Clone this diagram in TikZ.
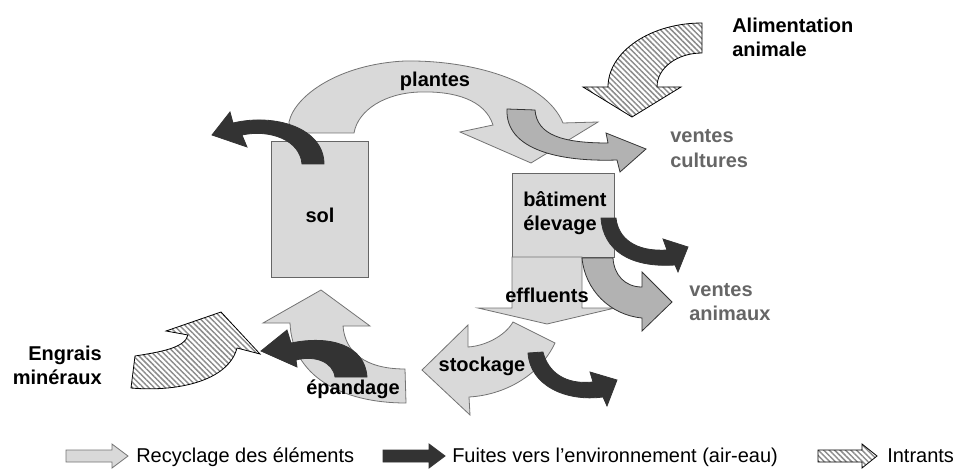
\documentclass[tikz,border=0pt]{standalone}
\usepackage{fontspec}
\setmainfont{Liberation Sans}
\usetikzlibrary{patterns.meta}

\definecolor{lightfill}{gray}{0.85}
\definecolor{lightline}{gray}{0.45}
\definecolor{midfill}{gray}{0.70}
\definecolor{darkfill}{gray}{0.20}
\definecolor{hatchline}{gray}{0.55}
\definecolor{salestext}{gray}{0.40}

\begin{document}
\begin{tikzpicture}[x=0.75pt, y=-0.75pt,
	recycle/.style={fill=lightfill, draw=lightline, line width=0.6pt},
	leak/.style={fill=darkfill, draw=darkfill, line width=0.6pt},
	sale/.style={fill=midfill, draw=black!80, line width=0.6pt},
	intrant/.style={draw=black, line width=0.6pt, preaction={fill=white}, pattern={Lines[angle=-45, distance=2.9pt, line width=1.1pt]}, pattern color=hatchline},
	stockbox/.style={fill=lightfill, draw=black!60, line width=0.6pt},
	boldtext/.style={font=\bfseries\fontsize{15}{18}\selectfont, inner sep=0pt},
	keytext/.style={font=\fontsize{15}{18}\selectfont, inner sep=0pt, anchor=base west}]
	
	\useasboundingbox (0,0) rectangle (956,474);
	
	\draw[recycle] (290,133) -- (289,122) .. controls (295,95) and (340,64) .. (405,61) .. controls (470,60) and (545,80) .. (563,123) -- (598,122) -- (531,163) -- (460,132) -- (493,125) .. controls (485,100) and (455,91) .. (420,92) .. controls (385,93) and (358,110) .. (354,133) -- cycle;
	\draw[stockbox] (271,141) rectangle (368,277);
	\draw[leak] (302,164) -- (324,164) .. controls (324,128) and (275,113) .. (233,123) -- (230,112) -- (212,135) -- (247,147) -- (242,135) .. controls (270,129) and (300,140) .. (302,164) -- cycle;
	\draw[sale] (507,109) -- (535,110) .. controls (537,135) and (562,143) .. (608,143) -- (606,133) -- (646,149) -- (620,172) -- (617,160) .. controls (560,162) and (505,150) .. (507,109) -- cycle;
	\draw[intrant] (702,23) -- (702,53) .. controls (677,53) and (657,68) .. (657,87) -- (681,87) -- (632,117) -- (583,87) -- (608,87) .. controls (608,52) and (650,23) .. (702,23) -- cycle;
	
	\draw[stockbox] (512,173) rectangle (614,257);
	\draw[recycle] (512,257) -- (582,257) -- (582,308) -- (615,308) -- (547,324) -- (478,308) -- (512,308) -- cycle;
	\draw[sale] (582,258) -- (613,258) .. controls (614,275) and (625,287) .. (642,287) -- (642,272) -- (672,302) -- (642,331) -- (642,318) .. controls (610,315) and (585,290) .. (582,258) -- cycle;
	\draw[leak] (601,218) -- (616,218) .. controls (618,238) and (635,252) .. (667,250) -- (663,239) -- (688,247) -- (678,272) -- (675,265) .. controls (630,268) and (603,250) .. (601,218) -- cycle;
	
	\draw[recycle] (513,322) -- (555,343) .. controls (540,375) and (505,395) .. (469,397) -- (470,415) -- (422,370) -- (468,325) -- (468,347) .. controls (485,346) and (505,336) .. (513,322) -- cycle;
	\draw[leak] (528,353) -- (543,352) .. controls (548,372) and (565,385) .. (593,382) -- (590,372) -- (617,380) -- (607,406) -- (603,397) .. controls (565,402) and (530,385) .. (528,353) -- cycle;
	
	\draw[recycle] (290,323) -- (263,323) -- (321,290) -- (370,326) -- (343,326) .. controls (345,352) and (365,369) .. (405,369) -- (406,403) .. controls (340,403) and (292,375) .. (290,323) -- cycle;
	\draw[leak] (335,377) -- (367,377) .. controls (365,345) and (330,335) .. (291,343) -- (287,330) -- (261,351) -- (297,367) -- (296,360) .. controls (315,355) and (333,362) .. (335,377) -- cycle;
	\draw[intrant] (135,356) -- (131,388) .. controls (175,392) and (228,382) .. (237,348) -- (260,354) -- (221,312) -- (166,331) -- (188,335) .. controls (185,348) and (160,352) .. (135,356) -- cycle;
	
	\draw[recycle] (66,450) -- (112,450) -- (112,444) -- (128,456) -- (112,468) -- (112,462) -- (66,462) -- cycle;
	\draw[leak] (383,450) -- (429,450) -- (429,444) -- (445,456) -- (429,468) -- (429,462) -- (383,462) -- cycle;
	\draw[intrant] (818,450) -- (862,450) -- (862,444) -- (877,456) -- (862,468) -- (862,462) -- (818,462) -- cycle;
	
	\node[boldtext, anchor=base] (plantes) at (435,87) {plantes};
	\node[boldtext, anchor=base] (sol) at (320,222) {sol};
	\node[boldtext, anchor=base west, align=left] (batiment) at (523,230) {bâtiment\\élevage};
	\node[boldtext, anchor=base] (effluents) at (547,302) {effluents};
	\node[boldtext, anchor=base] (stockage) at (482,371) {stockage};
	\node[boldtext, anchor=base] (epandage) at (353,394) {épandage};
	\node[boldtext, text=salestext, anchor=base west, align=left] (cultures) at (670,167) {ventes\\cultures};
	\node[boldtext, text=salestext, anchor=base west, align=left] (animaux) at (689,320) {ventes\\animaux};
	\node[boldtext, anchor=base west, align=left] (alimentation) at (732,57) {Alimentation\\animale};
	\node[boldtext, anchor=base east, align=right] (engrais) at (102,384) {Engrais\\minéraux};
	
	\node[keytext] (recyclage) at (136,462) {Recyclage des éléments};
	\node[keytext] (fuites) at (452,462) {Fuites vers l’environnement (air-eau)};
	\node[keytext] (intrants) at (887,462) {Intrants};

\end{tikzpicture}
\end{document}
